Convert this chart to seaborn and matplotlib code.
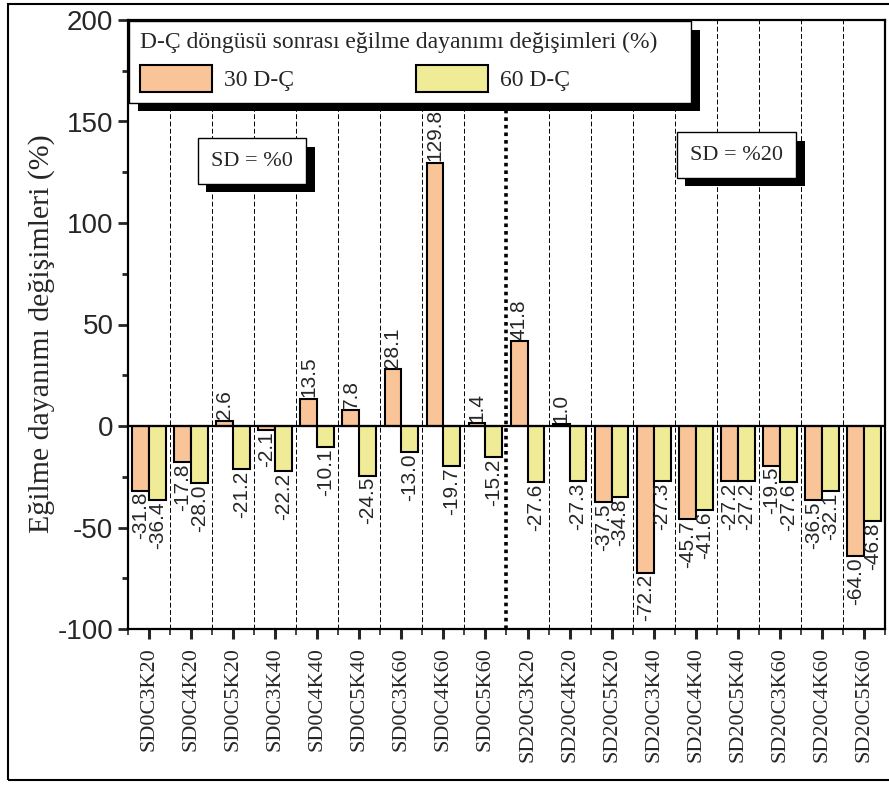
import matplotlib
matplotlib.use('Agg')
import matplotlib.pyplot as plt
import seaborn as sns
import pandas as pd
from matplotlib import patheffects as pe
from matplotlib.ticker import MultipleLocator, FixedLocator
from matplotlib.patches import Rectangle

categories = ['SD0C3K20', 'SD0C4K20', 'SD0C5K20', 'SD0C3K40', 'SD0C4K40', 'SD0C5K40',
              'SD0C3K60', 'SD0C4K60', 'SD0C5K60',
              'SD20C3K20', 'SD20C4K20', 'SD20C5K20', 'SD20C3K40', 'SD20C4K40', 'SD20C5K40',
              'SD20C3K60', 'SD20C4K60', 'SD20C5K60']
series_names = ['30 D-Ç', '60 D-Ç']
vals_30 = [-31.8, -17.8, 2.6, -2.1, 13.5, 7.8, 28.1, 129.8, 1.4,
           41.8, 1.0, -37.5, -72.2, -45.7, -27.2, -19.5, -36.5, -64.0]
vals_60 = [-36.4, -28.0, -21.2, -22.2, -10.1, -24.5, -13.0, -19.7, -15.2,
           -27.6, -27.3, -34.8, -27.3, -41.6, -27.2, -27.6, -32.1, -46.8]
colors = ['#F9C497', '#F0EB97']
legend_title = 'D-Ç döngüsü sonrası eğilme dayanımı değişimleri (%)'
y_label = 'Eğilme dayanımı değişimleri (%)'
group_labels = ['SD = %0', 'SD = %20']

df = pd.DataFrame({
    'Numune': categories * 2,
    'Seri': [series_names[0]] * len(categories) + [series_names[1]] * len(categories),
    'Deger': vals_30 + vals_60,
})

sns.set_style('ticks')
plt.rcParams['font.family'] = ['Liberation Serif', 'DejaVu Serif']
plt.rcParams['axes.unicode_minus'] = False

fig = plt.figure(figsize=(8.89, 7.87), dpi=100)
ax = fig.add_axes([128 / 889, 1 - 629 / 787, 757 / 889, 609 / 787])

sns.barplot(data=df, x='Numune', y='Deger', hue='Seri', hue_order=series_names,
            palette=colors, saturation=1, width=0.8, errorbar=None,
            edgecolor='black', linewidth=1.5, ax=ax, zorder=2)

ax.set_xlim(-0.5, len(categories) - 0.5)
ax.set_ylim(-100, 200)

# dividers
for k in range(1, len(categories)):
    if k == 9:
        ax.axvline(k - 0.5, color='black', lw=2.6, ls=(0, (1, 1.1)), zorder=1)
    else:
        ax.axvline(k - 0.5, color='black', lw=0.7, ls=(0, (5, 2.5)), zorder=1)
ax.axhline(0, color='black', lw=1.6, zorder=4)

# bar labels
for cont in ax.containers:
    for p in cont.patches:
        x = p.get_x() + p.get_width() / 2
        top = max(p.get_y(), p.get_y() + p.get_height())
        bot = min(p.get_y(), p.get_y() + p.get_height())
        value = p.get_y() + p.get_height() if p.get_y() == 0 else p.get_y()
        if value >= 0:
            ax.annotate(f'{value:.1f}', (x, top), xytext=(0, 1), textcoords='offset points',
                        rotation=90, ha='center', va='bottom', fontsize=15,
                        family='Liberation Sans', zorder=5)
        else:
            ax.annotate(f'{value:.1f}', (x, bot), xytext=(0, -1), textcoords='offset points',
                        rotation=90, ha='center', va='top', fontsize=15,
                        family='Liberation Sans', zorder=5)

# axes styling
for s in ax.spines.values():
    s.set_linewidth(1.6)
    s.set_color('black')
ax.set_xlabel('')
ax.set_ylabel(y_label, fontsize=21.5)
ax.yaxis.set_label_coords(-0.096, 0.485)
ax.yaxis.set_major_locator(MultipleLocator(50))
ax.yaxis.set_minor_locator(MultipleLocator(25))
ax.xaxis.set_minor_locator(FixedLocator([k - 0.5 for k in range(len(categories) + 1)]))
ax.tick_params(axis='y', which='major', length=7, width=2, labelsize=20, direction='out')
ax.tick_params(axis='y', which='minor', length=4, width=2, direction='out')
ax.tick_params(axis='x', which='major', length=7, width=2.2, labelsize=16, direction='out', pad=6)
ax.tick_params(axis='x', which='minor', length=4, width=1.2, direction='out')
for lab in ax.get_yticklabels():
    lab.set_family('Liberation Sans')
for lab in ax.get_xticklabels():
    lab.set_rotation(90)

# legend
handles, labels = ax.get_legend_handles_labels()
if ax.get_legend() is not None:
    ax.get_legend().remove()
leg = ax.legend(handles, labels, title=legend_title + '    ', ncol=2, loc='upper left',
                bbox_to_anchor=(0.0, 1.0), borderaxespad=0.05, frameon=True, fancybox=False,
                edgecolor='black', framealpha=1, fontsize=17, title_fontsize=17,
                handlelength=3.05, handleheight=1.4, columnspacing=5.2, handletextpad=0.5,
                alignment='left', borderpad=0.45)
leg.get_frame().set_linewidth(1.0)
leg.legendPatch.set_path_effects([
    pe.SimplePatchShadow(offset=(6, -6), shadow_rgbFace='black', alpha=1), pe.Normal()])
leg.set_zorder(10)

# group boxes
for txt, (bx, by) in zip(group_labels, [(0.164, 0.768), (0.804, 0.778)]):
    t = ax.text(bx, by, txt, transform=ax.transAxes, ha='center', va='center', fontsize=16,
                bbox=dict(boxstyle='square,pad=0.6', fc='white', ec='black', lw=1.0), zorder=9)
    t.get_bbox_patch().set_path_effects([
        pe.SimplePatchShadow(offset=(6, -6), shadow_rgbFace='black', alpha=1), pe.Normal()])

fig.patches.append(Rectangle((8 / 889, 1 - 780 / 787), 0.995, 776 / 787,
                             transform=fig.transFigure, fill=False, ec='black', lw=1.5))

fig.savefig('out.png', dpi=100)
